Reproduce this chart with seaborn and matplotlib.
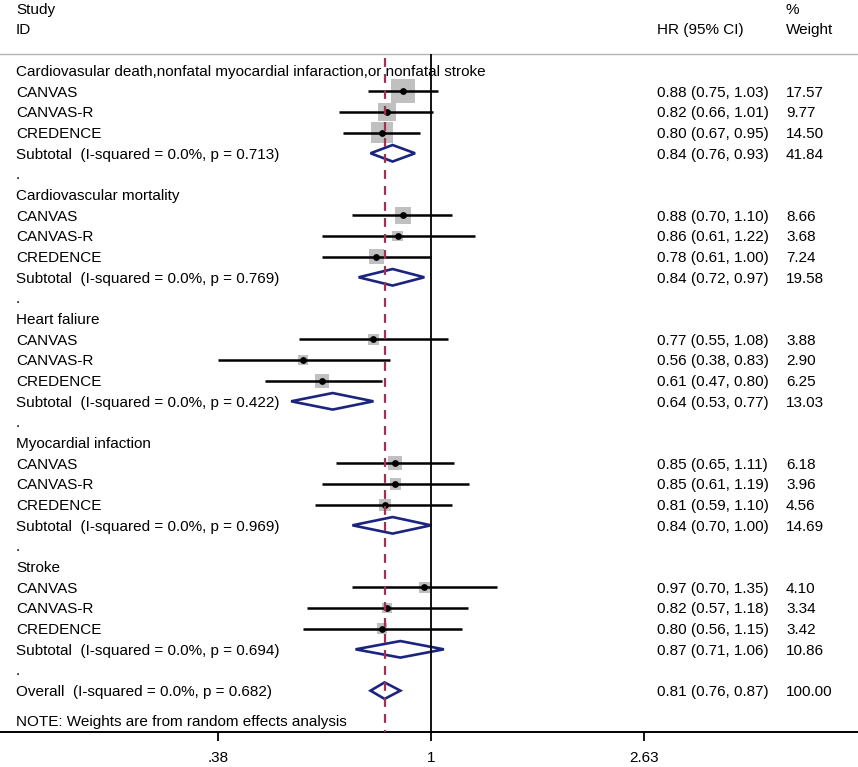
import numpy as np
import pandas as pd
import matplotlib
matplotlib.use("Agg")
import matplotlib.pyplot as plt
import matplotlib.transforms as mtransforms
from matplotlib.patches import Polygon
from matplotlib.ticker import NullLocator
import seaborn as sns

# ---------------- data ----------------
group_titles = ["Cardiovasular death,nonfatal myocardial infaraction,or nonfatal stroke",
                "Cardiovascular mortality", "Heart faliure", "Myocardial infaction", "Stroke"]
study_names = ["CANVAS", "CANVAS-R", "CREDENCE"]
study_hr = [[0.88, 0.82, 0.80], [0.88, 0.86, 0.78], [0.77, 0.56, 0.61],
            [0.85, 0.85, 0.81], [0.97, 0.82, 0.80]]
study_lo = [[0.75, 0.66, 0.67], [0.70, 0.61, 0.61], [0.55, 0.38, 0.47],
            [0.65, 0.61, 0.59], [0.70, 0.57, 0.56]]
study_hi = [[1.03, 1.01, 0.95], [1.10, 1.22, 1.00], [1.08, 0.83, 0.80],
            [1.11, 1.19, 1.10], [1.35, 1.18, 1.15]]
study_weight = [[17.57, 9.77, 14.50], [8.66, 3.68, 7.24], [3.88, 2.90, 6.25],
                [6.18, 3.96, 4.56], [4.10, 3.34, 3.42]]
subtotal_p = ["0.713", "0.769", "0.422", "0.969", "0.694"]
subtotal_hr = [0.84, 0.84, 0.64, 0.84, 0.87]
subtotal_lo = [0.76, 0.72, 0.53, 0.70, 0.71]
subtotal_hi = [0.93, 0.97, 0.77, 1.00, 1.06]
subtotal_weight = [41.84, 19.58, 13.03, 14.69, 10.86]
overall_p = "0.682"
overall_hr, overall_lo, overall_hi, overall_weight = 0.81, 0.76, 0.87, 100.00
tick_values = [0.38, 1, 2.63]
tick_labels = [".38", "1", "2.63"]
note_text = "NOTE: Weights are from random effects analysis"

# ---------------- style ----------------
sns.set_theme(style="white")
plt.rcParams['font.family'] = ['Liberation Sans', 'DejaVu Sans']
FS = 11
NAVY = "#1b2580"
GRAY = "#c0c0c0"
RED = "#a3304c"

# ---------------- build tables ----------------
rows = []
for g in range(len(group_titles)):
    for i, name in enumerate(study_names):
        rows.append(dict(y=6 * g + 1 + i, name=name, hr=study_hr[g][i],
                         lo=study_lo[g][i], hi=study_hi[g][i], w=study_weight[g][i]))
df = pd.DataFrame(rows)

sub = pd.DataFrame(dict(y=[6 * g + 4 for g in range(5)], hr=subtotal_hr,
                        lo=subtotal_lo, hi=subtotal_hi, w=subtotal_weight, p=subtotal_p))

overall_y = 30
note_y = 31.42

# ---------------- figure ----------------
fig = plt.figure(figsize=(8.58, 7.67), dpi=100)
ax = fig.add_axes([0, 35 / 767, 1, 732 / 767])
ax.set_xscale("log")

# squares
k = 16.5
wmin, wmax = df.w.min(), df.w.max()
sns.scatterplot(data=df, x="hr", y="y", size="w", sizes=(k * wmin, k * wmax),
                size_norm=(wmin, wmax), marker="s", color=GRAY, linewidth=0,
                legend=False, ax=ax, zorder=2)
# CI lines
ax.hlines(df.y, df.lo, df.hi, color="black", lw=1.8, zorder=3)
# center dots
sns.scatterplot(data=df, x="hr", y="y", s=24, color="black", marker="o",
                linewidth=0, legend=False, ax=ax, zorder=4)

# diamonds
h = 0.40
def diamond(y, est, lo, hi):
    poly = Polygon([(lo, y), (est, y - h), (hi, y), (est, y + h)], closed=True,
                   facecolor="white", edgecolor=NAVY, lw=1.9, zorder=5)
    ax.add_patch(poly)

for _, r in sub.iterrows():
    diamond(r.y, r.hr, r.lo, r.hi)
diamond(overall_y, overall_hr, overall_lo, overall_hi)

# limits
ax.set_xlim(np.exp(-1.9555), np.exp(1.937))
ax.set_ylim(32.0, -3.416)
ax.set_xlabel("")
ax.set_ylabel("")

# reference lines
sep_y = -0.82
ax.vlines(1, sep_y, 32.0, color="black", lw=1.3, zorder=6)
ax.vlines(overall_hr, -0.62, 32.0, color=RED, lw=1.6, linestyles=(0, (4, 3.2)), zorder=6)
ax.axhline(sep_y, color="#b5b5b5", lw=1.0, zorder=1)

# spines / ticks
for s in ["left", "right", "top"]:
    ax.spines[s].set_visible(False)
ax.spines["bottom"].set_color("black")
ax.spines["bottom"].set_linewidth(1.4)
ax.set_xticks(tick_values)
ax.set_xticklabels(tick_labels)
ax.xaxis.set_minor_locator(NullLocator())
ax.set_yticks([])
ax.tick_params(axis="x", direction="out", length=6.5, width=1.3, pad=7,
               labelsize=FS, colors="black", bottom=True)

# text
tr = mtransforms.blended_transform_factory(ax.transAxes, ax.transData)
xl, xh, xw = 16 / 858, 657 / 858, 786 / 858
kw = dict(transform=tr, fontsize=FS, va="center_baseline", color="black")
ax.text(xl, -3.0, "Study", **kw)
ax.text(xl, -2.03, "ID", **kw)
ax.text(xh, -2.03, "HR (95% CI)", **kw)
ax.text(xw, -3.0, "%", **kw)
ax.text(xw, -2.03, "Weight", **kw)

for g, title in enumerate(group_titles):
    ax.text(xl, 6 * g, title, **kw)
    ax.text(xl, 6 * g + 5, ".", **kw)
for _, r in df.iterrows():
    ax.text(xl, r.y, r["name"], **kw)
    ax.text(xh, r.y, f"{r.hr:.2f} ({r.lo:.2f}, {r.hi:.2f})", **kw)
    ax.text(xw, r.y, f"{r.w:.2f}", **kw)
for _, r in sub.iterrows():
    ax.text(xl, r.y, f"Subtotal  (I-squared = 0.0%, p = {r.p})", **kw)
    ax.text(xh, r.y, f"{r.hr:.2f} ({r.lo:.2f}, {r.hi:.2f})", **kw)
    ax.text(xw, r.y, f"{r.w:.2f}", **kw)
ax.text(xl, overall_y, f"Overall  (I-squared = 0.0%, p = {overall_p})", **kw)
ax.text(xh, overall_y, f"{overall_hr:.2f} ({overall_lo:.2f}, {overall_hi:.2f})", **kw)
ax.text(xw, overall_y, f"{overall_weight:.2f}", **kw)
ax.text(xl, note_y, note_text, **kw)

fig.savefig("out.png", dpi=100)
